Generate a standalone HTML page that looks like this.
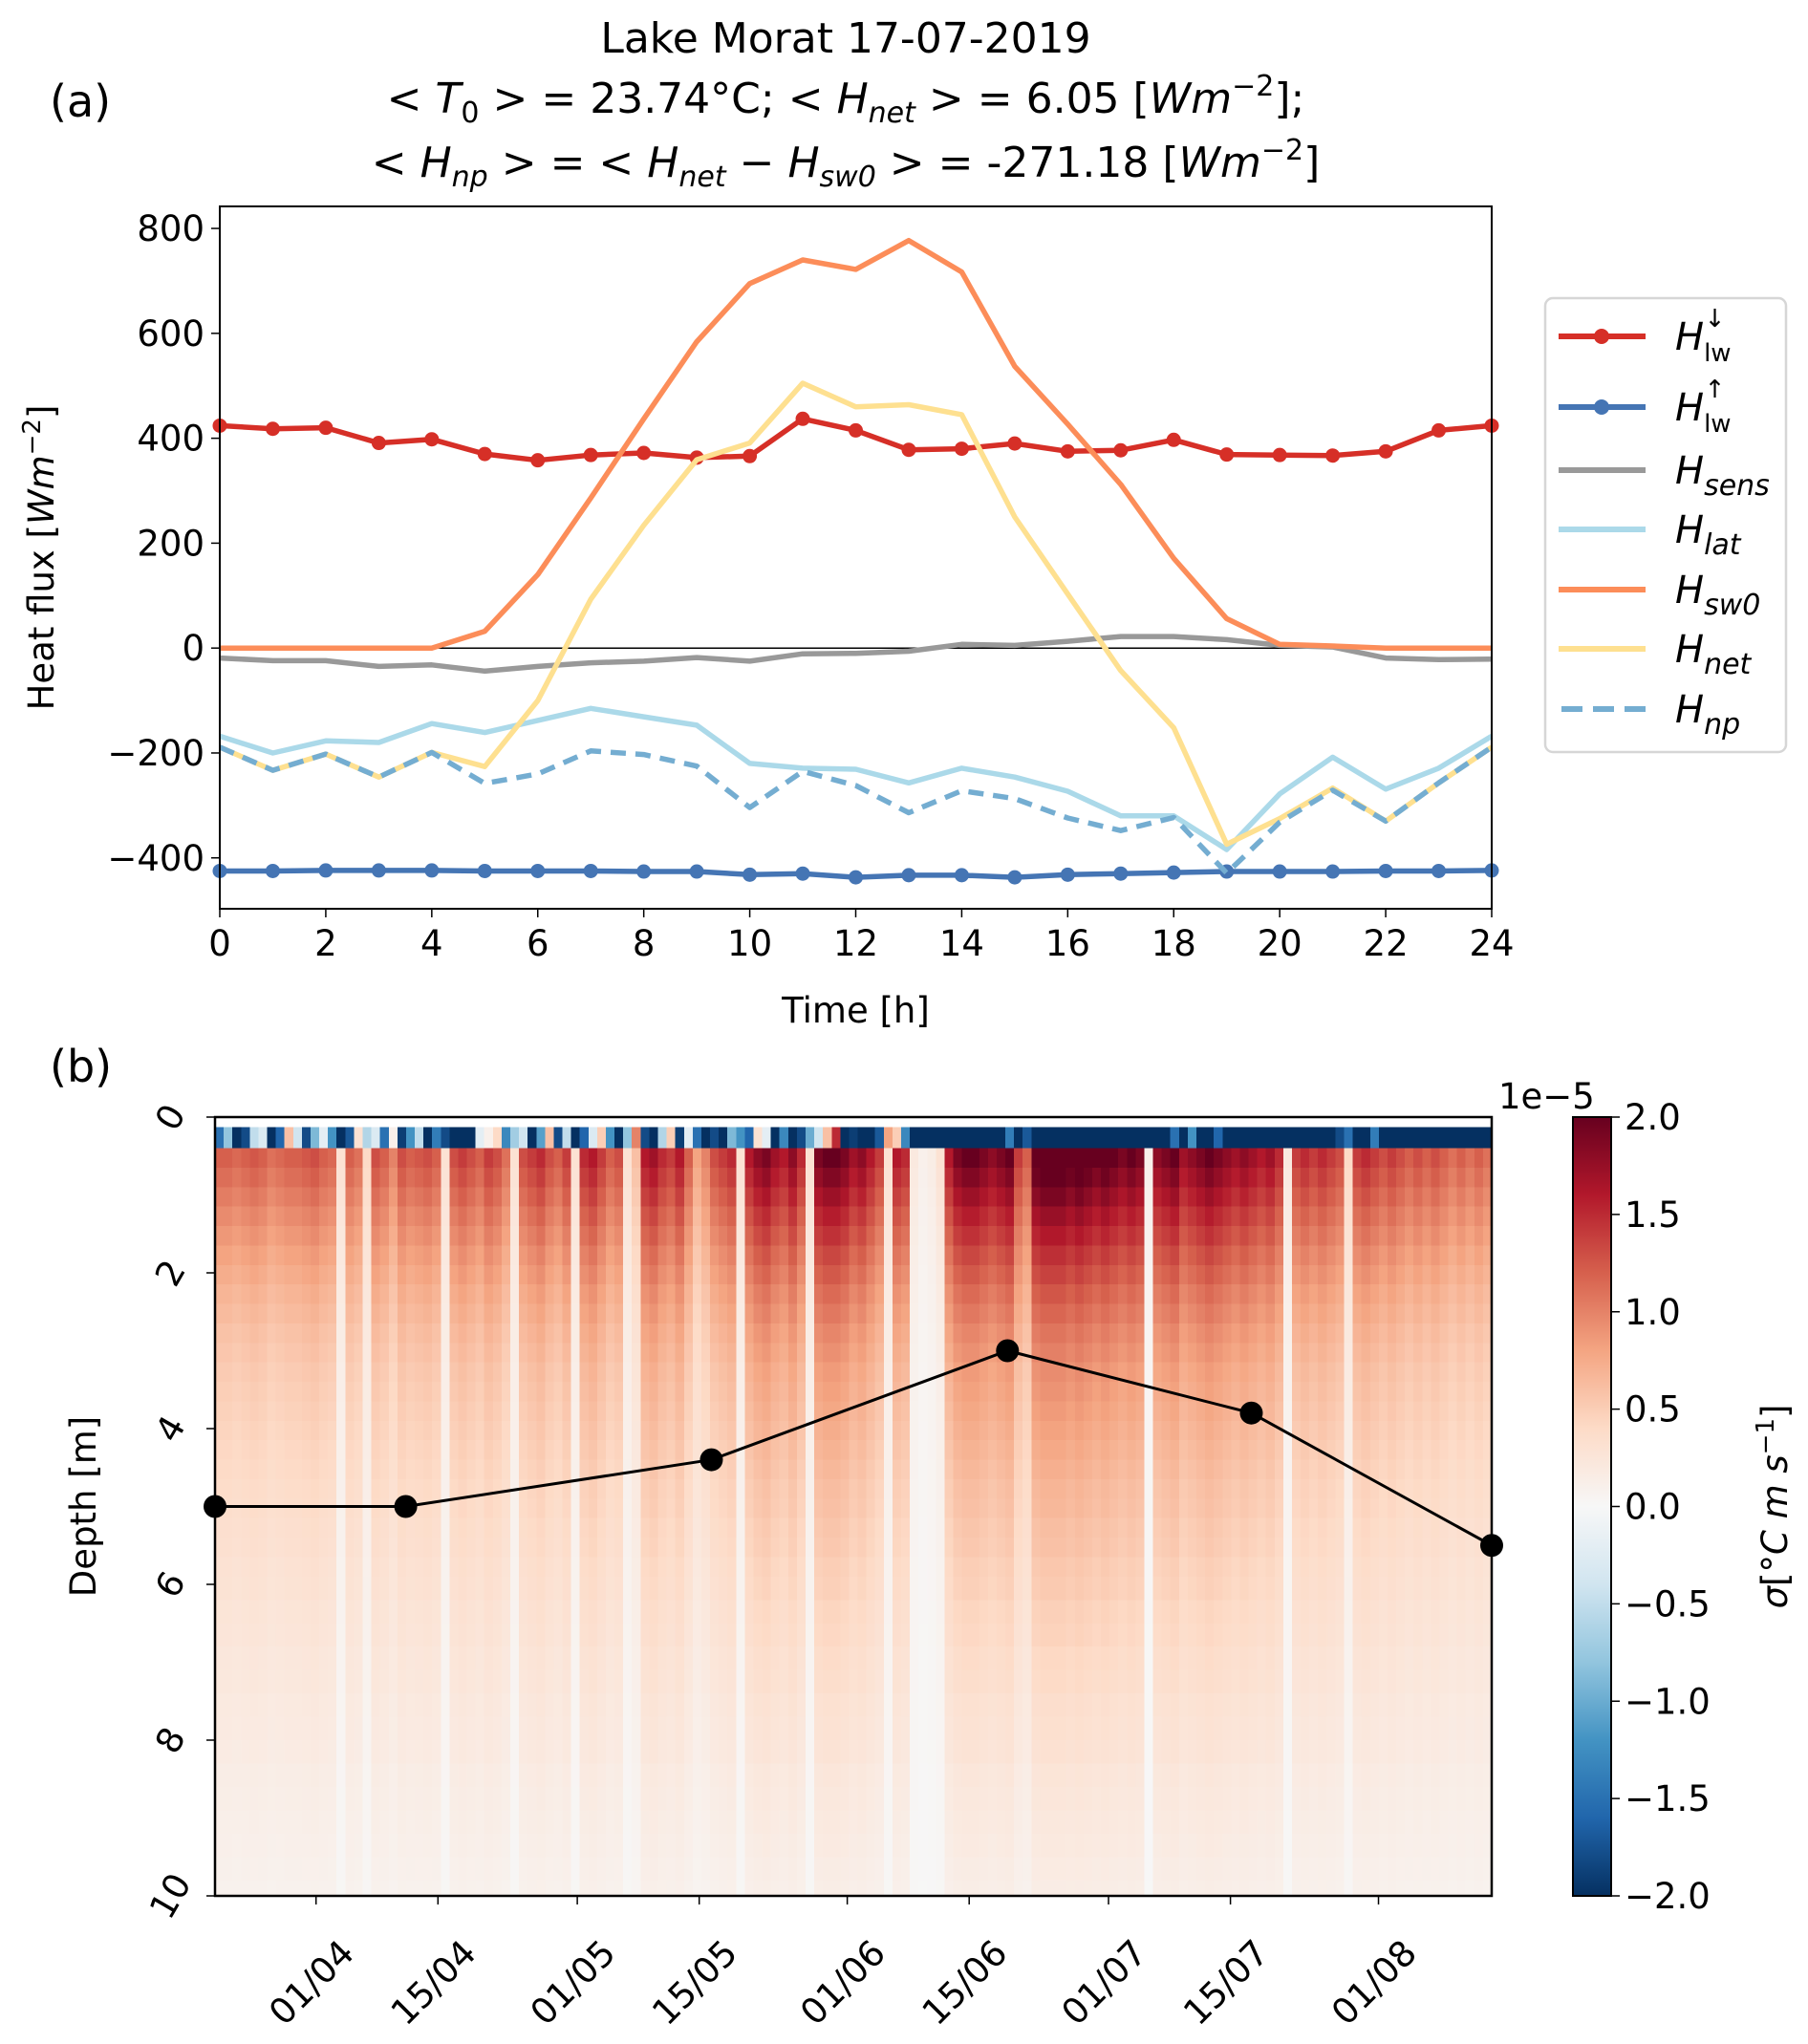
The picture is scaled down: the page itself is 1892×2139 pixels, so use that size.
<!DOCTYPE html>
<html><head><meta charset="utf-8"><style>
body{margin:0;background:#fff;}
svg text{font-family:"DejaVu Sans","Liberation Sans",sans-serif;fill:#000;}
</style></head><body>
<svg id="fig" width="1892" height="2134" viewBox="0 0 1892 2134" xmlns="http://www.w3.org/2000/svg">
<g id="title" font-size="44" text-anchor="middle">
<text x="885" y="55">Lake Morat 17-07-2019</text>
<text x="885" y="118">&lt; <tspan font-style="italic">T</tspan><tspan font-size="30" dy="10">0</tspan><tspan dy="-10"> &gt;  = 23.74°C;  &lt; </tspan><tspan font-style="italic">H</tspan><tspan font-size="30" dy="10" font-style="italic">net</tspan><tspan dy="-10"> &gt;  = 6.05 [</tspan><tspan font-style="italic">Wm</tspan><tspan font-size="30" dy="-18">−2</tspan><tspan dy="18">];</tspan></text>
<text x="885" y="185">&lt; <tspan font-style="italic">H</tspan><tspan font-size="30" dy="10" font-style="italic">np</tspan><tspan dy="-10"> &gt;  =  &lt; </tspan><tspan font-style="italic">H</tspan><tspan font-size="30" dy="10" font-style="italic">net</tspan><tspan dy="-10" font-style="italic"> − H</tspan><tspan font-size="30" dy="10" font-style="italic">sw0</tspan><tspan dy="-10"> &gt;  =  -271.18 [</tspan><tspan font-style="italic">Wm</tspan><tspan font-size="30" dy="-18">−2</tspan><tspan dy="18">]</tspan></text>
</g>
<text x="52" y="122" font-size="46">(a)</text>
<text x="52" y="1132" font-size="46">(b)</text>
<g id="pa"></g>
<g id="pb"></g>
</svg>
<script>
const NS="http://www.w3.org/2000/svg";
const hours=[0,1,2,3,4,5,6,7,8,9,10,11,12,13,14,15,16,17,18,19,20,21,22,23,24];
const lwDown=[424,418,420,391,398,370,358,368,372,363,366,437,415,378,380,390,375,377,397,369,368,367,375,415,424];
const lwUp=[-425,-425,-424,-424,-424,-425,-425,-425,-426,-426,-432,-430,-437,-433,-433,-437,-432,-430,-428,-426,-426,-426,-425,-425,-424];
const sens=[-19,-24,-24,-35,-32,-44,-35,-28,-25,-18,-25,-11,-10,-6,7,5,13,22,22,16,5,2,-19,-22,-21];
const lat=[-168,-200,-177,-180,-144,-161,-138,-115,-131,-147,-220,-229,-231,-257,-229,-246,-273,-320,-320,-384,-278,-208,-269,-229,-168];
const sw0=[0,0,0,0,0,32,140,286,437,584,695,740,722,777,717,537,427,312,171,56,7,4,0,0,0];
const net=[-189,-233,-202,-246,-199,-226,-100,93,234,359,391,505,460,464,445,250,103,-43,-152,-374,-325,-267,-330,-257,-189];
const np=[-189,-233,-202,-246,-199,-258,-240,-196,-203,-225,-304,-235,-262,-314,-272,-287,-324,-348,-323,-429,-332,-271,-330,-257,-189];
const yTicksA=[-400,-200,0,200,400,600,800];
const xTicksA=[0,2,4,6,8,10,12,14,16,18,20,22,24];

// panel b data
const dayIntensity=[1.2,1.2,1.15,1.2,1.25,1.2,1.1,1.15,1.2,1.2,1.25,1.3,1.2,1.15,0.3,1.2,1.1,0.4,1.3,1.2,1.0,1.3,1.2,1.25,1.3,1.2,0.3,1.3,1.4,1.3,1.2,1.4,1.3,1.1,0.3,1.3,1.4,1.5,1.3,1.2,1.4,0.3,1.5,1.6,1.4,1.2,1.3,0.3,0.6,1.6,1.7,1.5,1.4,1.6,1.2,0.8,1.0,1.3,1.4,1.5,0.3,1.6,1.8,1.9,1.7,1.6,1.8,1.5,0.3,1.9,2.0,2.0,1.9,1.7,1.8,1.6,1.4,0.3,1.6,1.5,0.2,0.1,0.15,0.3,1.6,1.9,2.0,2.0,1.9,1.8,1.9,2.0,1.4,1.2,2.1,2.2,2.2,2.2,2.1,2.2,2.1,2.0,2.1,2.0,1.9,2.0,1.9,0.1,1.8,1.9,2.0,1.7,1.8,1.9,2.0,1.9,1.8,1.7,1.8,1.7,1.6,1.7,1.5,0.2,1.4,1.5,1.4,1.5,1.4,1.3,0.4,1.4,1.5,1.4,1.3,1.4,1.3,1.2,1.3,1.2,1.3,1.2,1.1,1.2,1.1,1.2,1.1];
const surfaceRow=[-1.5,-0.8,-2,-1.8,-0.5,-0.3,-2,-1.6,0.6,-0.4,-1.8,-0.9,-0.2,-1.2,-2,-1.7,0.3,-0.6,-0.3,-1.5,0.1,-1.9,-1.2,-0.5,-2,-1.4,-1.8,-2,-2,-2,-0.2,0.1,0.4,-1.3,-0.7,-0.4,-2,-1.1,0.6,-1.8,-0.5,-2,-1.6,-0.3,0.5,-1.2,-2,-0.8,1.0,-1.8,-2,-0.6,0.5,-1.9,-0.2,-1.5,-2,-1.8,-2,-0.9,-1.2,-1.6,0.3,-0.2,-2,-1.3,-2,-1.8,-1.0,-0.4,0.6,1.5,-2,-1.9,-2,-2,-1.7,0.8,0.5,-1.3,-2,-2,-2,-2,-2,-2,-2,-2,-2,-2,-2,-1.4,-2,-1.7,-2,-2,-2,-2,-2,-2,-2,-2,-2,-2,-2,-2,-2,-2,-2,-2,-1.5,-2,-1.2,-2,-2,-1.6,-2,-2,-2,-2,-2,-2,-2,-2,-2,-2,-2,-2,-2,-1.8,-1.5,-2,-2,-1.4,-2,-2,-2,-2,-2,-2,-2,-2,-2,-2,-2,-2,-2,-2,-2];
const depthEdges=[0.4,0.65,0.9,1.15,1.4,1.65,1.9,2.15,2.4,2.65,2.9,3.15,3.4,3.65,3.9,4.15,4.4,4.65,4.9,5.15,5.4,5.65,5.9,6.2,6.5,6.8,7.1,7.4,7.7,8.0,8.3,8.6,8.9,9.2,9.5,9.8,10];
const depthProfile=[1.0,0.93,0.86,0.79,0.73,0.67,0.62,0.57,0.53,0.49,0.46,0.43,0.41,0.39,0.37,0.35,0.33,0.31,0.3,0.28,0.27,0.25,0.24,0.22,0.21,0.19,0.18,0.16,0.15,0.14,0.12,0.11,0.1,0.09,0.08,0.07];
const mixDays=[0,21.9,57,91,119,146.6];
const mixDepth=[5,5,4.4,3,3.8,5.5];
const dateTickDays=[11.6,25.6,41.6,55.6,72.6,86.6,102.6,116.6,133.6];
const dateTickLabels=["01/04","15/04","01/05","15/05","01/06","15/06","01/07","15/07","01/08"];
const depthTicks=[0,2,4,6,8,10];
const cbTicks=[-2.0,-1.5,-1.0,-0.5,0.0,0.5,1.0,1.5,2.0];

function el(tag,attrs,parent){const e=document.createElementNS(NS,tag);for(const k in attrs)e.setAttribute(k,attrs[k]);parent.appendChild(e);return e;}

// ---------- panel a ----------
const pa=document.getElementById('pa');
const AL=230,AR=1561,AT=216,AB=951,YMIN=-497,YMAX=842;
const xA=h=>AL+(h-0)/(24-0)*(AR-AL);
const yA=v=>AB-(v-YMIN)/(YMAX-YMIN)*(AB-AT);
let zl=el('line',{x1:AL,x2:AR,y1:yA(0),y2:yA(0),stroke:'#000','stroke-width':1.5},pa);

function series(vals,color,name,opts){
  const g=el('g',{},pa);
  
  
  const pts=vals.map((v,i)=>xA(hours[i]).toFixed(1)+','+yA(v).toFixed(1)).join(' ');
  const a={points:pts,fill:'none',stroke:color,'stroke-width':5.5,'stroke-linejoin':'round'};
  if(opts&&opts.dash)a['stroke-dasharray']='16,10';
  el('polyline',a,g);
  if(opts&&opts.markers){vals.forEach((v,i)=>{const c=el('circle',{cx:xA(hours[i]),cy:yA(v),r:7.5,fill:color},g);
    });}
}
series(lwDown,'#d62f27','series-lw-down',{markers:true});
series(lwUp,'#4575b4','series-lw-up',{markers:true});
series(sens,'#999999','series-sens');
series(lat,'#abd9e9','series-lat');
series(sw0,'#fc8d59','series-sw0');
series(net,'#fee090','series-net');
series(np,'#74add1','series-np',{dash:true});
let fr=el('rect',{x:AL,y:AT,width:AR-AL,height:AB-AT,fill:'none',stroke:'#000','stroke-width':2},pa);

yTicksA.forEach(v=>{el('line',{x1:AL-9,x2:AL,y1:yA(v),y2:yA(v),stroke:'#000','stroke-width':1.5},pa);
  const t=el('text',{x:AL-16,y:yA(v)+13,'font-size':37,'text-anchor':'end'},pa);t.textContent=(v<0?'−'+(-v):v);
  });
xTicksA.forEach(v=>{el('line',{x1:xA(v),x2:xA(v),y1:AB,y2:AB+9,stroke:'#000','stroke-width':1.5},pa);
  const t=el('text',{x:xA(v),y:AB+49,'font-size':37,'text-anchor':'middle'},pa);t.textContent=v;
  });
let xt=el('text',{x:(AL+AR)/2,y:1070,'font-size':37,'text-anchor':'middle'},pa);xt.textContent='Time [h]';

let yt=el('text',{x:0,y:0,'font-size':37,'text-anchor':'middle',transform:`translate(56,${(AT+AB)/2}) rotate(-90)`},pa);
yt.innerHTML='Heat flux [<tspan font-style="italic">Wm</tspan><tspan font-size="26" dy="-14">−2</tspan><tspan dy="14">]</tspan>';

// legend
const lg=el('g',{},pa);

el('rect',{x:1617,y:312,width:252,height:475,rx:8,fill:'#fff',stroke:'#d6d6d6','stroke-width':2.5},lg);
const legItems=[['#d62f27','lw','↓',1,0],['#4575b4','lw','↑',1,0],['#999999','sens','',0,0],['#abd9e9','lat','',0,0],['#fc8d59','sw0','',0,0],['#fee090','net','',0,0],['#74add1','np','',0,1]];
const legY=[352,426,492,554,617,679,742];
legItems.forEach((it,i)=>{const g=el('g',{},lg);
  
  const y=legY[i];
  const la={x1:1631,x2:1722,y1:y,y2:y,stroke:it[0],'stroke-width':6};
  if(it[4]){la['stroke-dasharray']='22,11';la.x1=1634;}
  el('line',la,g);
  if(it[3])el('circle',{cx:1676,cy:y,r:8,fill:it[0]},g);
  const t=el('text',{x:1753,y:y+14,'font-size':40},g);
  if(it[2]){t.innerHTML='<tspan font-style="italic">H</tspan><tspan font-size="26" dy="12">'+it[1]+'</tspan><tspan font-size="26" dx="-28" dy="-36">'+it[2]+'</tspan>';}
  else t.innerHTML='<tspan font-style="italic">H</tspan><tspan font-size="30" dy="12" font-style="italic">'+it[1]+'</tspan>';
});

// ---------- panel b ----------
const pb=document.getElementById('pb');
const BL=225,BR=1561,BT=1169,BB=1984,DMAX=146.6;
const xB=d=>BL+d/DMAX*(BR-BL);
const yB=z=>BT+z/10*(BB-BT);
const stops=['#053061','#2166ac','#4393c3','#92c5de','#d1e5f0','#f7f7f7','#fddbc7','#f4a582','#d6604d','#b2182b','#67001f'];
function hex(c){return [parseInt(c.slice(1,3),16),parseInt(c.slice(3,5),16),parseInt(c.slice(5,7),16)];}
function cmap(v){let t=(v+2)/4;t=Math.max(0,Math.min(1,t))*10;const i=Math.min(9,Math.floor(t));const f=t-i;
  const a=hex(stops[i]),b=hex(stops[i+1]);return 'rgb('+a.map((x,k)=>Math.round(x+(b[k]-x)*f)).join(',')+')';}
const hm=el('g',{'shape-rendering':'crispEdges'},pb);

const nd=dayIntensity.length;
for(let d=0;d<nd;d++){
  const x0=xB(d*DMAX/nd),x1=xB((d+1)*DMAX/nd);
  const s=el('rect',{x:x0,y:yB(0.13),width:x1-x0+0.6,height:yB(0.4)-yB(0.13)+0.6,fill:cmap(surfaceRow[d%surfaceRow.length])},hm);
  
  for(let r=0;r<depthProfile.length;r++){
    const z0=depthEdges[r],z1=depthEdges[r+1];
    const c=el('rect',{x:x0,y:yB(z0),width:x1-x0+0.6,height:yB(z1)-yB(z0)+0.6,fill:cmap(dayIntensity[d]*depthProfile[r])},hm);
    
  }
}
const ml=el('g',{},pb);

el('polyline',{points:mixDays.map((d,i)=>xB(d)+','+yB(mixDepth[i])).join(' '),fill:'none',stroke:'#000','stroke-width':3},ml);
mixDays.forEach((d,i)=>{const c=el('circle',{cx:xB(d),cy:yB(mixDepth[i]),r:12,fill:'#000'},ml);
  });
let fb=el('rect',{x:BL,y:BT,width:BR-BL,height:BB-BT,fill:'none',stroke:'#000','stroke-width':2.5},pb);

depthTicks.forEach(z=>{el('line',{x1:BL-9,x2:BL,y1:yB(z),y2:yB(z),stroke:'#000','stroke-width':1.5},pb);
  const t=el('text',{x:0,y:0,'font-size':37,'text-anchor':'middle',transform:`translate(178,${yB(z)}) rotate(-60) translate(0,13)`},pb);t.textContent=z;
  });
dateTickDays.forEach((d,i)=>{const x=xB(d);el('line',{x1:x,x2:x,y1:BB,y2:BB+9,stroke:'#000','stroke-width':1.5},pb);
  const t=el('text',{x:0,y:0,'font-size':37,'text-anchor':'end',transform:`translate(${x+42},${BB+62}) rotate(-45)`},pb);t.textContent=dateTickLabels[i];
  });
let dt=el('text',{x:0,y:0,'font-size':37,'text-anchor':'middle',transform:`translate(100,${yB(5)}) rotate(-90)`},pb);dt.textContent='Depth [m]';

// colorbar
const CL=1646,CR=1686;
const cb=el('g',{},pb);

const defs=el('defs',{},cb);const gr=el('linearGradient',{id:'cbg',x1:0,y1:1,x2:0,y2:0},defs);
stops.forEach((s,i)=>el('stop',{offset:i/10,'stop-color':s},gr));
el('rect',{x:CL,y:BT,width:CR-CL,height:BB-BT,fill:'url(#cbg)',stroke:'#000','stroke-width':2},cb);
const yC=v=>BB-(v+2)/4*(BB-BT);
cbTicks.forEach(v=>{el('line',{x1:CR,x2:CR+9,y1:yC(v),y2:yC(v),stroke:'#000','stroke-width':1.5},cb);
  const t=el('text',{x:CR+14,y:yC(v)+13,'font-size':37},cb);t.textContent=(v<0?'−':'')+Math.abs(v).toFixed(1);
  });
let ex=el('text',{x:1568,y:1160,'font-size':37},cb);ex.textContent='1e−5';

let cl=el('text',{x:0,y:0,'font-size':37,'text-anchor':'middle',transform:`translate(1870,${(BT+BB)/2}) rotate(-90)`},cb);
cl.innerHTML='<tspan font-style="italic">σ</tspan>[°<tspan font-style="italic">C m s</tspan><tspan font-size="26" dy="-14">−1</tspan><tspan dy="14">]</tspan>';

</script>
</body></html>
